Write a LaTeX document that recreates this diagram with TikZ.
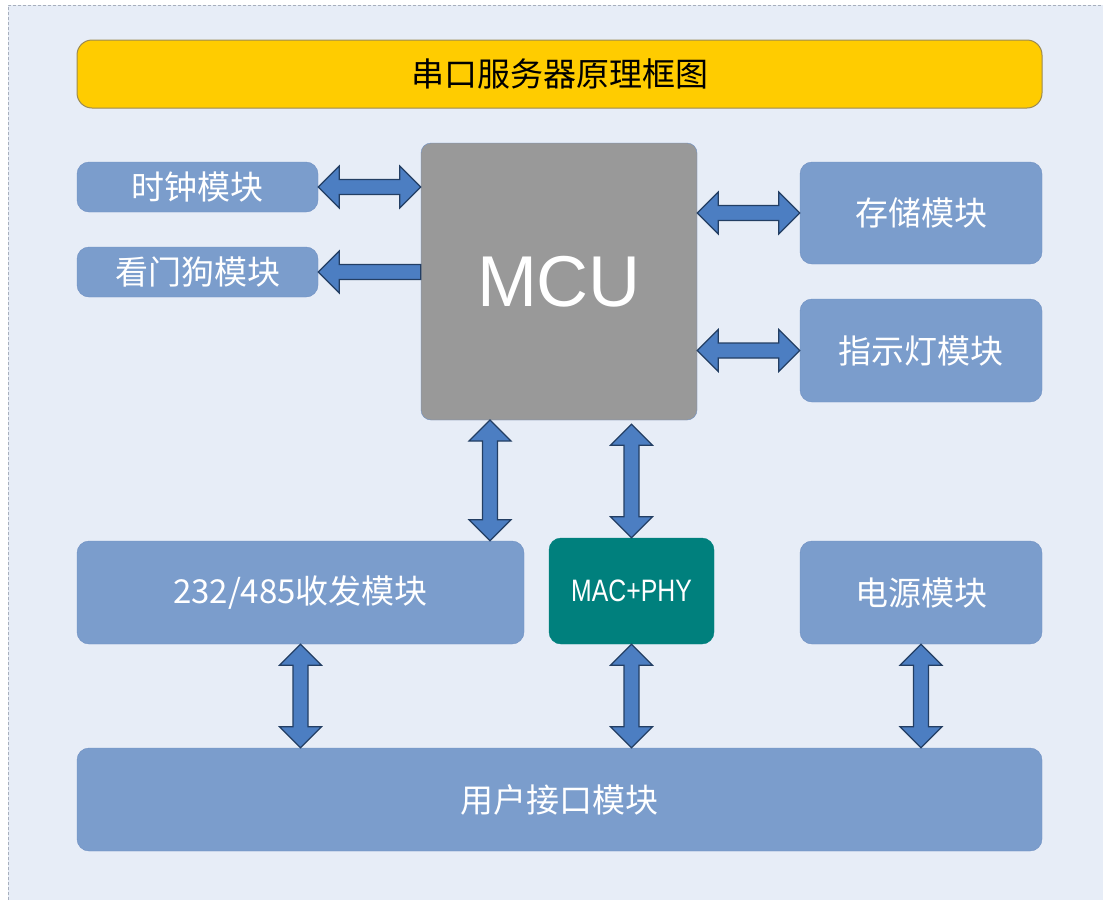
\documentclass[tikz,border=0pt]{standalone}
\usepackage{fontspec}
\setmainfont{Noto Sans CJK SC}
\newfontfamily\mcufont{Liberation Sans}
\newfontfamily\narrowfont[FakeStretch=0.8]{Liberation Sans}
\usetikzlibrary{calc}

\definecolor{bgblue}{HTML}{E7EDF7}
\definecolor{bgline}{HTML}{A7AFBD}
\definecolor{boxblue}{HTML}{7B9DCC}
\definecolor{boxline}{HTML}{6F90C2}
\definecolor{titlefill}{HTML}{FFCC00}
\definecolor{titleline}{HTML}{9C8A52}
\definecolor{mcugray}{HTML}{999999}
\definecolor{macteal}{HTML}{00807D}
\definecolor{arrowfill}{HTML}{4C7EC2}
\definecolor{arrowline}{HTML}{233E63}

\newcommand{\aL}{21pt}
\newcommand{\aH}{21pt}
\newcommand{\aW}{7.5pt}

\tikzset{
  module/.style={draw=boxline, fill=boxblue, rounded corners=12pt, text=white,
    font=\fontsize{33}{40}\selectfont, inner sep=0pt},
  dblarrow/.style={draw=arrowline, fill=arrowfill, line width=1.2pt, line join=miter,
    to path={
      -- ($(\tikztostart)!\aL!(\tikztotarget)!\aH!90:(\tikztotarget)$)
      -- ($(\tikztostart)!\aL!(\tikztotarget)!\aW!90:(\tikztotarget)$)
      -- ($(\tikztotarget)!\aL!(\tikztostart)!\aW!-90:(\tikztostart)$)
      -- ($(\tikztotarget)!\aL!(\tikztostart)!\aH!-90:(\tikztostart)$)
      -- (\tikztotarget)
      -- ($(\tikztotarget)!\aL!(\tikztostart)!\aH!90:(\tikztostart)$)
      -- ($(\tikztotarget)!\aL!(\tikztostart)!\aW!90:(\tikztostart)$)
      -- ($(\tikztostart)!\aL!(\tikztotarget)!\aW!-90:(\tikztotarget)$)
      -- ($(\tikztostart)!\aL!(\tikztotarget)!\aH!-90:(\tikztotarget)$)
      -- cycle}},
  onearrow/.style={draw=arrowline, fill=arrowfill, line width=1.2pt, line join=miter,
    to path={
      ($(\tikztostart)!\aW!90:(\tikztotarget)$)
      -- ($(\tikztotarget)!\aL!(\tikztostart)!\aW!-90:(\tikztostart)$)
      -- ($(\tikztotarget)!\aL!(\tikztostart)!\aH!-90:(\tikztostart)$)
      -- (\tikztotarget)
      -- ($(\tikztotarget)!\aL!(\tikztostart)!\aH!90:(\tikztostart)$)
      -- ($(\tikztotarget)!\aL!(\tikztostart)!\aW!90:(\tikztostart)$)
      -- ($(\tikztostart)!\aW!-90:(\tikztotarget)$)
      -- cycle}},
}

\begin{document}
\begin{tikzpicture}[x=1pt, y=-1pt]
	\useasboundingbox (0,0) rectangle (1103,900);
	\fill [bgblue] (8,5) rectangle (1103,900);
	\draw [bgline, dashed, dash pattern=on 3pt off 2pt] (8,900) -- (8,5) -- (1103,5);
	
	% title bar
	\node [draw=titleline, fill=titlefill, rounded corners=15pt, line width=1pt,
		minimum width=965pt, minimum height=68pt, inner sep=0pt,
		font=\fontsize{33}{40}\selectfont] (title) at (559.5,74) {串口服务器原理框图};
	
	% MCU
	\node [draw=boxline, fill=mcugray, rounded corners=10pt, text=white,
		minimum width=276pt, minimum height=277pt, inner sep=0pt,
		font=\mcufont\fontsize{72}{80}\selectfont] (mcu) at (559,281.5) {MCU};
	
	% modules
	\node [module, minimum width=241pt, minimum height=50pt] (clk) at (197.5,187) {时钟模块};
	\node [module, minimum width=241pt, minimum height=50pt] (wdg) at (197.5,272) {看门狗模块};
	\node [module, minimum width=242pt, minimum height=102pt] (mem) at (921,213) {存储模块};
	\node [module, minimum width=242pt, minimum height=103pt] (led) at (921,350.5) {指示灯模块};
	\node [module, minimum width=447pt, minimum height=103pt] (trx) at (300.5,592.5) {232/485收发模块};
	\node [module, minimum width=242pt, minimum height=103pt] (pwr) at (921,592.5) {电源模块};
	\node [module, minimum width=965pt, minimum height=103pt] (usr) at (559.5,799.5) {用户接口模块};
	\node [draw=macteal, fill=macteal, rounded corners=12pt, text=white,
		minimum width=165pt, minimum height=106pt, inner sep=0pt,
		font=\narrowfont\fontsize{31}{36}\selectfont] (mac) at (631.5,591) {MAC+PHY};
	
	% free ends on the MCU side
	\coordinate (clkin) at (mcu.west |- clk.east);
	\coordinate (wdgout) at (mcu.west |- wdg.east);
	\coordinate (memin) at (mcu.east |- mem.west);
	\coordinate (ledin) at (mcu.east |- led.west);
	\coordinate (trxout) at (490,420);
	\coordinate (trxin) at (trxout |- trx.north);
	\coordinate (macout) at (mac.north |- mcu.south);
	\coordinate (trxusr) at (trx.south |- usr.north);
	\coordinate (macusr) at (mac.south |- usr.north);
	\coordinate (pwrusr) at (pwr.south |- usr.north);
	
	\draw [dblarrow] (clk.east) to (clkin);
	\draw [onearrow] (wdgout) to (wdg.east);
	\draw [dblarrow] (memin) to (mem.west);
	\draw [dblarrow] (ledin) to (led.west);
	\draw [dblarrow] (trxout) to (trxin);
	\draw [dblarrow] ([yshift=-4pt]macout) to (mac.north);
	\draw [dblarrow] (trx.south) to (trxusr);
	\draw [dblarrow] (mac.south) to (macusr);
	\draw [dblarrow] (pwr.south) to (pwrusr);
	
\end{tikzpicture}
\end{document}
